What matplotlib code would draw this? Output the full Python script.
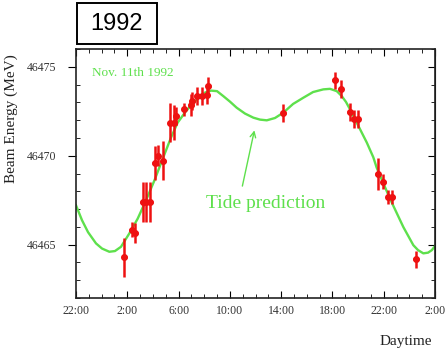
import matplotlib
matplotlib.use('Agg')
from matplotlib import pyplot as plt
from matplotlib.patches import Rectangle
from matplotlib.ticker import MultipleLocator

# hours counted from 22:00 on the evening before
meas_hr = [3.77, 4.33, 4.60, 5.20, 5.46, 5.77, 6.16, 6.37, 6.81, 7.36, 7.67, 7.80,
           8.45, 8.97, 9.05, 9.44, 9.83, 10.18, 10.32, 16.17, 20.20, 20.65, 21.37,
           21.71, 21.97, 23.54, 23.97, 24.36, 24.67, 26.52]
meas_mev = [46464.28, 46465.85, 46465.64, 46467.39, 46467.39, 46467.39, 46469.57,
            46470.00, 46469.72, 46471.86, 46471.86, 46472.23, 46472.61, 46472.85,
            46473.07, 46473.35, 46473.35, 46473.41, 46473.91, 46472.42, 46474.23,
            46473.76, 46472.46, 46472.08, 46472.08, 46468.98, 46468.55, 46467.67,
            46467.67, 46464.17]
meas_err = [1.1, 0.42, 0.56, 1.12, 1.12, 1.12, 0.95, 0.6, 1.1, 1.1, 1.0, 0.5,
            0.35, 0.6, 0.5, 0.5, 0.5, 0.5, 0.5, 0.5, 0.5, 0.5, 0.5,
            0.5, 0.5, 0.9, 0.4, 0.4, 0.4, 0.5]

# tide prediction curve
tide_hr = [0.00, 0.47, 0.94, 1.56, 2.03, 2.60, 3.04, 3.51, 4.16, 4.81, 5.46, 6.11,
           6.76, 7.41, 7.93, 8.58, 9.23, 9.67, 10.06, 10.53, 11.00, 11.49, 12.01,
           12.53, 13.18, 13.83, 14.35, 14.88, 15.52, 16.17, 16.93, 17.73, 18.49,
           19.29, 19.81, 20.34, 20.73, 21.06, 21.37, 22.02, 22.68, 23.19, 23.45,
           24.49, 25.53, 26.31, 26.68, 27.09, 27.46, 27.75, 28.00]
tide_mev = [46467.21, 46466.37, 46465.70, 46465.07, 46464.78, 46464.60, 46464.64,
            46464.88, 46465.63, 46466.46, 46467.49, 46468.60, 46469.82, 46471.02,
            46471.86, 46472.51, 46473.02, 46473.35, 46473.55, 46473.66, 46473.63,
            46473.35, 46473.04, 46472.70, 46472.37, 46472.14, 46472.03, 46471.99,
            46472.12, 46472.42, 46472.91, 46473.26, 46473.58, 46473.73, 46473.76,
            46473.63, 46473.35, 46473.02, 46472.61, 46471.68, 46470.74, 46469.91,
            46469.33, 46467.58, 46465.99, 46464.97, 46464.69, 46464.51, 46464.55,
            46464.69, 46464.92]

xtick_pos = [0, 4, 8, 12, 16, 20, 24, 28]
xtick_labels = ['22:00', '2:00', '6:00', '10:00', '14:00', '18:00', '22:00', '2:00']

green = '#5ee04c'
red = '#ee1111'
serif = 'Liberation Serif'

fig = plt.figure(figsize=(4.45, 3.54), dpi=100)
ax = fig.add_axes([76/445, 1-298/354, 359/445, 249/354])

ax.plot(tide_hr, tide_mev, color=green, lw=1.7, zorder=2)
ax.errorbar(meas_hr, meas_mev, yerr=meas_err, xerr=0.2, fmt='o', ms=4,
            color=red, ecolor=red, elinewidth=1.8, capsize=0, zorder=3)

ax.set_xlim(0, 28)
ax.set_ylim(46462, 46476)
ax.set_xticks(xtick_pos)
ax.set_xticklabels(xtick_labels)
ax.xaxis.set_minor_locator(MultipleLocator(1))
ax.set_yticks([46465, 46470, 46475])
ax.yaxis.set_minor_locator(MultipleLocator(1))

ax.tick_params(axis='x', which='major', direction='in', length=5, top=True,
               pad=5, labelsize=8.5, labelcolor='#333333')
ax.tick_params(axis='x', which='minor', direction='in', length=3, top=True)
ax.tick_params(axis='y', which='major', direction='out', length=6, right=False,
               pad=8, labelsize=8.5, labelcolor='#333333')
ax.tick_params(axis='y', which='minor', direction='in', length=3, right=False)
for lab in ax.get_xticklabels() + ax.get_yticklabels():
    lab.set_fontfamily(serif)

# right side ticks point inward
ax_r = ax.secondary_yaxis('right')
ax_r.set_yticks([46465, 46470, 46475])
ax_r.yaxis.set_minor_locator(MultipleLocator(1))
ax_r.tick_params(which='major', direction='in', length=5, labelright=False)
ax_r.tick_params(which='minor', direction='in', length=3)

for s in ax.spines.values():
    s.set_linewidth(1.2)
    s.set_color('#222222')

ax.set_ylabel('Beam Energy (MeV)', fontfamily=serif, fontsize=11, color='#222222')
ax.yaxis.set_label_coords(-0.162, 0.72)
ax.text(0.919, -0.173, 'Daytime', transform=ax.transAxes, ha='center', va='center',
        fontfamily=serif, fontsize=11, color='#222222')

ax.text(1.25, 46474.64, 'Nov. 11th 1992', ha='left', va='center', color=green,
        fontfamily=serif, fontsize=9.5)
ax.text(14.82, 46467.3, 'Tide prediction', ha='center', va='center', color=green,
        fontfamily=serif, fontsize=14)
ax.annotate('', xy=(13.96, 46471.58), xytext=(12.93, 46468.14),
            arrowprops=dict(arrowstyle='->', color=green, lw=1.0))

fig.patches.append(Rectangle((77/445, 1-44/354), 80/445, 41/354, transform=fig.transFigure,
                             fill=False, lw=1.4, ec='black'))
fig.text(117/445, 1-24/354, '1992', ha='center', va='center', fontsize=17,
         fontfamily='Liberation Sans')

plt.savefig('out.png', dpi=100)
